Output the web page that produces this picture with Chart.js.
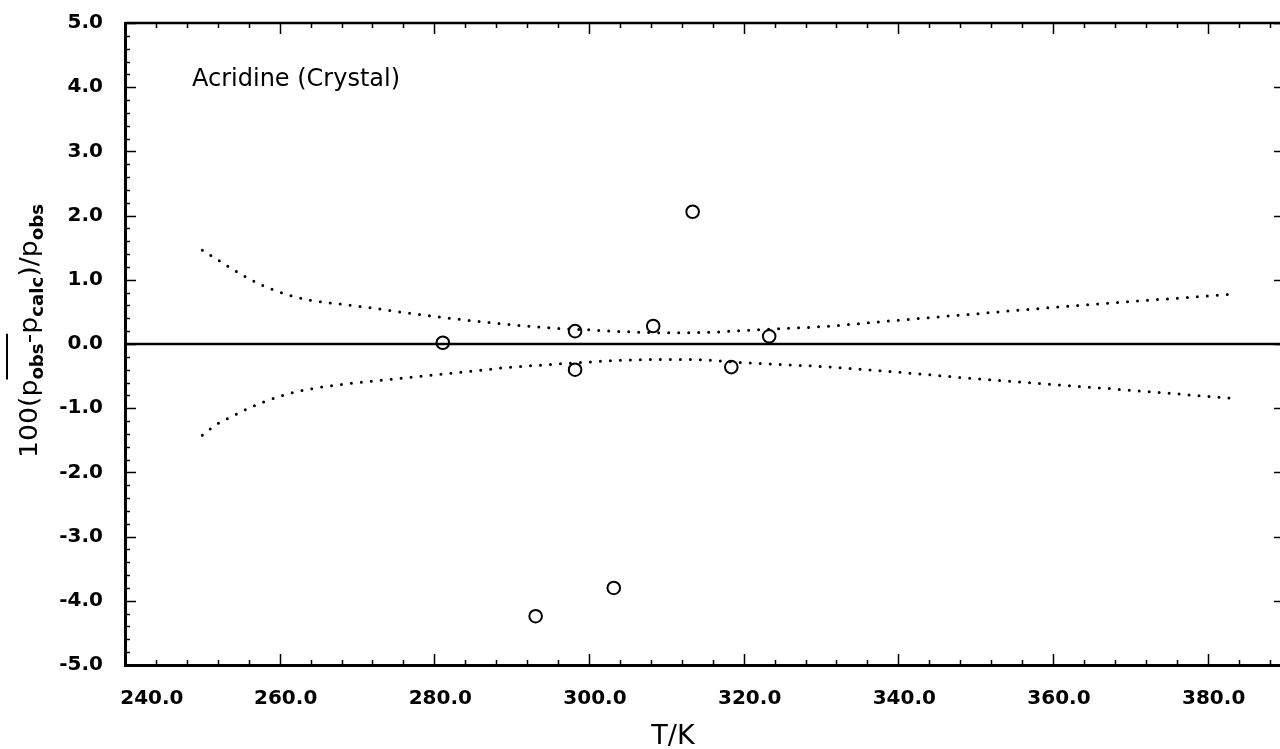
<!DOCTYPE html>
<html>
<head>
<meta charset="utf-8">
<script src="https://cdn.jsdelivr.net/npm/chart.js@4.4.1/dist/chart.umd.min.js"></script>
<style>
    html, body { margin: 0; padding: 0; background: #fff; overflow: hidden; }
    #contenedor { width: 1300px; height: 749px; }
</style>
</head>
<body>
<div id="contenedor"><canvas id="grafDesviacion" width="1300" height="749"></canvas></div>
<script>
// puntos medidos
const tempObs = [281.1, 293.1, 298.2, 298.2, 303.2, 308.3, 313.4, 318.4, 323.3]
const desvObs = [0.02, -4.24, 0.20, -0.40, -3.80, 0.28, 2.06, -0.36, 0.12]

// banda de incertidumbre (lineas punteadas)
const tempBanda = [250, 252, 254, 256, 258, 261, 264, 268, 272, 276, 280, 285, 290, 295, 300, 305, 310, 315, 320, 325, 330, 340, 350, 360, 370, 383.5]
const bandaSup = [1.46, 1.31, 1.16, 1.02, 0.90, 0.77, 0.68, 0.62, 0.56, 0.49, 0.43, 0.36, 0.30, 0.25, 0.22, 0.19, 0.175, 0.18, 0.21, 0.24, 0.27, 0.37, 0.47, 0.57, 0.66, 0.78]
const bandaInf = [-1.42, -1.24, -1.12, -1.00, -0.90, -0.78, -0.70, -0.63, -0.58, -0.53, -0.48, -0.42, -0.36, -0.32, -0.28, -0.25, -0.24, -0.25, -0.29, -0.32, -0.35, -0.44, -0.54, -0.63, -0.72, -0.85]

// linea de referencia en cero
const tempCero = [240, 390]
const desvCero = [0, 0]

// ticks
const xTicks = [240, 260, 280, 300, 320, 340, 360, 380]
const yTicks = [-5, -4, -3, -2, -1, 0, 1, 2, 3, 4, 5]

const FUENTE = 'DejaVu Sans'
Chart.defaults.font.family = FUENTE
Chart.defaults.color = '#000'

function pares(xs, ys) {
    return xs.map((x, i) => ({ x: x, y: ys[i] }))
}

const marcoPlugin = {
    id: 'marco',
    afterDraw(chart) {
        const ctx = chart.ctx
        const a = chart.chartArea
        const sx = chart.scales.x
        const sy = chart.scales.y
        ctx.save()
        ctx.strokeStyle = '#000'
        ctx.fillStyle = '#000'

        // marco superior y derecho
        ctx.lineWidth = 2.5
        ctx.beginPath()
        ctx.moveTo(a.left, a.top)
        ctx.lineTo(a.right, a.top)
        ctx.lineTo(a.right, a.bottom)
        ctx.stroke()

        // ticks hacia adentro
        ctx.lineWidth = 1.5
        ctx.beginPath()
        for (let i = 0; i <= 37; i++) {
            let v = 240 + i * 4
            let px = Math.round(sx.getPixelForValue(v)) + 0.5
            let largo = (i % 5 === 0) ? 11 : 5
            ctx.moveTo(px, a.bottom)
            ctx.lineTo(px, a.bottom - largo)
            ctx.moveTo(px, a.top)
            ctx.lineTo(px, a.top + largo)
        }
        for (let i = -25; i <= 25; i++) {
            let py = Math.round(sy.getPixelForValue(i * 0.2)) + 0.5
            let largo = (i % 5 === 0) ? 11 : 5
            ctx.moveTo(a.left, py)
            ctx.lineTo(a.left + largo, py)
            ctx.moveTo(a.right, py)
            ctx.lineTo(a.right - largo, py)
        }
        ctx.stroke()

        // etiqueta dentro del grafico
        ctx.font = '24px "' + FUENTE + '"'
        ctx.textAlign = 'left'
        ctx.textBaseline = 'alphabetic'
        ctx.fillText('Acridine (Crystal)', 192, 86)

        // titulo eje x
        ctx.font = '27px "' + FUENTE + '"'
        ctx.textAlign = 'center'
        ctx.fillText('T/K', 673, 744)

        // titulo eje y con subindices
        const fPrin = '25px "' + FUENTE + '"'
        const fSub = 'bold 17px "' + FUENTE + '"'
        const partes = [
            { t: '100(', f: fPrin, dy: 0 },
            { t: 'p', f: fPrin, dy: 0 },
            { t: 'obs', f: fSub, dy: 6, barra: true },
            { t: '-', f: fPrin, dy: 0, barra: true },
            { t: 'p', f: fPrin, dy: 0 },
            { t: 'calc', f: fSub, dy: 6 },
            { t: ')', f: fPrin, dy: 0 },
            { t: '/', f: fPrin, dy: 0 },
            { t: 'p', f: fPrin, dy: 0 },
            { t: 'obs', f: fSub, dy: 6 },
        ]
        let total = 0
        partes.forEach(p => { ctx.font = p.f; p.w = ctx.measureText(p.t).width; total += p.w })
        const escala = 254 / total
        ctx.translate(37, 458)
        ctx.rotate(-Math.PI / 2)
        ctx.scale(escala, 1)
        ctx.textAlign = 'left'
        let pos = 0
        let barraIni = null, barraFin = null
        partes.forEach(p => {
            ctx.font = p.f
            ctx.fillText(p.t, pos, p.dy)
            if (p.barra) {
                if (barraIni === null) barraIni = pos
                barraFin = pos + p.w
            }
            pos += p.w
        })
        ctx.lineWidth = 2
        ctx.beginPath()
        ctx.moveTo(barraIni, -30)
        ctx.lineTo(barraFin, -30)
        ctx.stroke()
        ctx.restore()
    }
}

let grafDesviacion = document.getElementById('grafDesviacion')

let tablaDesviacion = new Chart(grafDesviacion, {
    type: 'scatter',
    plugins: [marcoPlugin],
    data: {
        datasets: [{
            label: 'obs',
            data: pares(tempObs, desvObs),
            showLine: false,
            pointStyle: 'circle',
            pointRadius: 6.3,
            pointBorderWidth: 2,
            pointBackgroundColor: 'rgba(0,0,0,0)',
            pointBorderColor: '#000',
        },
        {
            label: 'sup',
            data: pares(tempBanda, bandaSup),
            showLine: true,
            pointRadius: 0,
            borderColor: '#000',
            borderWidth: 3,
            borderDash: [0, 10],
            borderCapStyle: 'round',
            cubicInterpolationMode: 'monotone',
        },
        {
            label: 'inf',
            data: pares(tempBanda, bandaInf),
            showLine: true,
            pointRadius: 0,
            borderColor: '#000',
            borderWidth: 3,
            borderDash: [0, 10],
            borderCapStyle: 'round',
            cubicInterpolationMode: 'monotone',
        },
        {
            label: 'cero',
            data: pares(tempCero, desvCero),
            showLine: true,
            pointRadius: 0,
            borderColor: '#000',
            borderWidth: 2.6,
        }]
    },
    options: {
        responsive: false,
        animation: false,
        devicePixelRatio: 1,
        layout: {
            padding: { left: 0, top: 23, right: 15, bottom: 0 },
        },
        plugins: {
            legend: { display: false },
            tooltip: { enabled: false },
        },
        scales: {
            x: {
                type: 'linear',
                min: 240,
                max: 390,
                afterFit: (scale) => {
                    scale.height = 84
                    scale.paddingLeft = 0
                    scale.paddingRight = 0
                },
                afterBuildTicks: (scale) => { scale.ticks = xTicks.map(v => ({ value: v })) },
                grid: { display: false, drawTicks: false },
                border: { display: true, width: 3, color: '#000' },
                ticks: {
                    padding: 22,
                    labelOffset: 6,
                    maxRotation: 0,
                    autoSkip: false,
                    font: { size: 20, weight: 'bold' },
                    callback: (v) => (v === 240 ? '\u2007\u2007\u2007' : '') + v.toFixed(1),
                },
            },
            y: {
                type: 'linear',
                min: -5,
                max: 5,
                afterFit: (scale) => {
                    scale.width = 125
                    scale.paddingTop = 0
                    scale.paddingBottom = 0
                },
                afterBuildTicks: (scale) => { scale.ticks = yTicks.map(v => ({ value: v })) },
                grid: { display: false, drawTicks: false },
                border: { display: true, width: 3, color: '#000' },
                ticks: {
                    padding: 22,
                    autoSkip: false,
                    font: { size: 20, weight: 'bold' },
                    callback: (v) => v.toFixed(1),
                },
            },
        },
    },
})
</script>
</body>
</html>
